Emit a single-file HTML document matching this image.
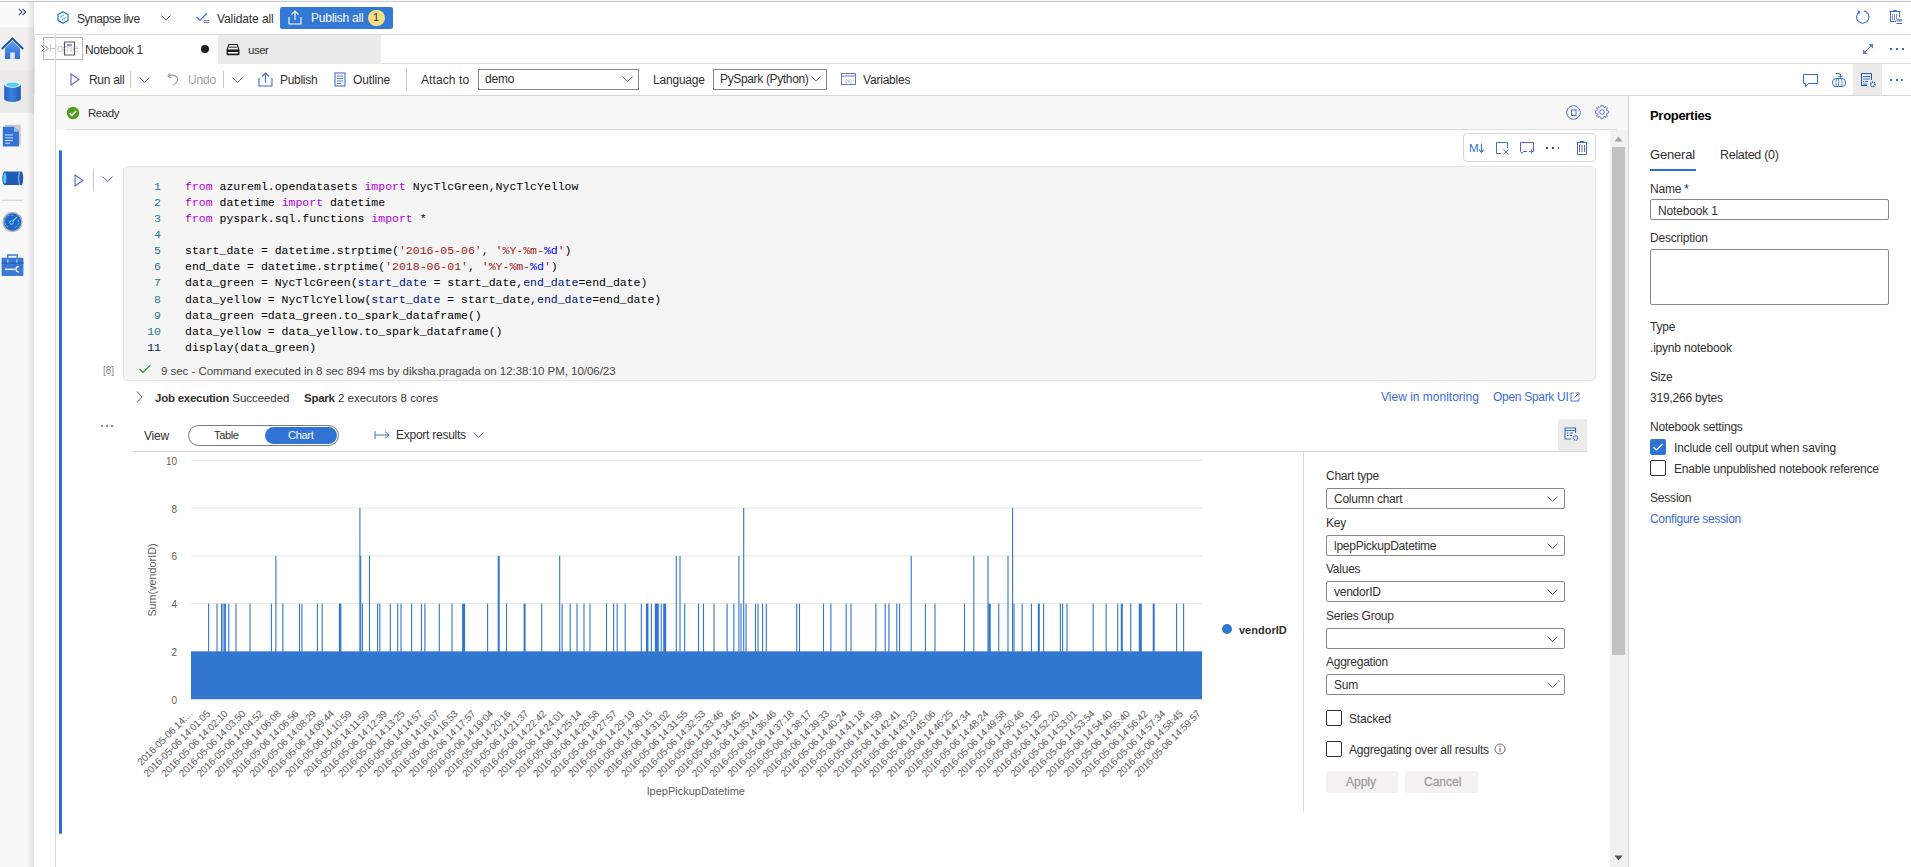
<!DOCTYPE html>
<html><head><meta charset="utf-8">
<style>
*{box-sizing:border-box;margin:0;padding:0}
html,body{width:1911px;height:867px;overflow:hidden;background:#fff;font-family:"Liberation Sans",sans-serif;color:#323130}
.a{position:absolute}
.t{position:absolute;white-space:nowrap;line-height:1}
svg{position:absolute;overflow:visible}
.ln{position:absolute;left:130px;margin-top:0.5px;width:31px;text-align:right;font-family:"Liberation Mono",monospace;font-size:11.5px;line-height:16px;color:#237893;white-space:pre}
.cd{position:absolute;left:185px;margin-top:0.5px;font-family:"Liberation Mono",monospace;font-size:11.5px;line-height:16px;color:#000;white-space:pre}
.kw{color:#af00db}.st{color:#a31515}.fm{color:#0000ff}.pa{color:#001080}
</style></head>
<body>
<!-- top border -->
<div class="a" style="left:0;top:0;width:1911px;height:1px;background:#f3f8fd"></div><div class="a" style="left:0;top:1px;width:1911px;height:1px;background:#cacaca"></div>

<!-- left sidebar -->
<div class="a" style="left:0;top:2px;width:34px;height:865px;background:#f8f8f8"></div>
<div class="a" style="left:0;top:2px;width:34px;height:25px;background:#fbfbfb"></div>
<div class="a" style="left:0;top:27px;width:34px;height:43px;background:#f1f0ef"></div>
<div class="a" style="left:0;top:70px;width:34px;height:43px;background:#ebeae9"></div>
<div class="a" style="left:27px;top:2px;width:7px;height:865px;background:linear-gradient(to right,rgba(0,0,0,0),rgba(0,0,0,0.10))"></div>
<div class="a" style="left:34px;top:35px;width:1px;height:60px;background:#e2e2e2"></div>

<svg style="left:18px;top:8px" width="9" height="8" viewBox="0 0 9 8"><path d="M0.8 0.8 L4 4 L0.8 7.2 M4.5 0.8 L7.7 4 L4.5 7.2" fill="none" stroke="#3a4a7a" stroke-width="1.1"/></svg>
<svg style="left:0;top:0" width="34" height="290" viewBox="0 0 34 290">
<defs>
<linearGradient id="hg" x1="0" y1="0" x2="0" y2="1"><stop offset="0" stop-color="#5c9cf0"/><stop offset="1" stop-color="#2f70d3"/></linearGradient>
<linearGradient id="dbg" x1="0" y1="0" x2="1" y2="0"><stop offset="0" stop-color="#2262c4"/><stop offset="0.45" stop-color="#3c82dc"/><stop offset="1" stop-color="#1f5bb8"/></linearGradient>
</defs>
<!-- home -->
<path d="M5 48 V59 H20 V48 L12.5 41 Z" fill="url(#hg)"/>
<path d="M1.8 49 L12.5 38.5 L23.2 49" fill="none" stroke="#1d4fa6" stroke-width="1.8"/>
<rect x="10.2" y="52.5" width="4.6" height="6.3" fill="#e8e8e8"/>
<!-- database -->
<path d="M4.2 84.5 V99 A8.3 3 0 0 0 20.8 99 V84.5 Z" fill="url(#dbg)"/>
<ellipse cx="12.5" cy="84.5" rx="8.3" ry="3.2" fill="#e8f4fb"/>
<ellipse cx="12.5" cy="84.6" rx="6.5" ry="2.2" fill="#4fcff5"/>
<!-- document -->
<rect x="5" y="124.7" width="15.8" height="19.8" fill="#c9c9c9"/>
<path d="M2.8 126.8 H14 L18.9 131.7 V146.4 H2.8 Z" fill="#3374d4"/>
<path d="M14 126.8 L18.9 131.7 H14 Z" fill="#8fc0f2"/>
<path d="M5 135 H13 M5 137.8 H13 M5 140.6 H13 M5 143.2 H10" stroke="#cfe0f8" stroke-width="1"/>
<!-- pipeline -->
<rect x="6" y="171.5" width="14" height="13.5" fill="#1f5cb8"/>
<ellipse cx="5" cy="178.2" rx="2.7" ry="7" fill="#1f5cb8"/>
<ellipse cx="4.8" cy="178.2" rx="1.6" ry="5.8" fill="#4fc6f2"/>
<ellipse cx="21" cy="178.2" rx="2.2" ry="7" fill="#1f5cb8"/>
<path d="M19.3 171.8 Q18 178.2 19.3 184.8" fill="none" stroke="#e8eef8" stroke-width="0.7"/>
<!-- separator -->
<rect x="2" y="199.8" width="21" height="1" fill="#d2d2d2"/>
<!-- monitor -->
<circle cx="12.5" cy="222" r="9.4" fill="#2265c6" stroke="#b4b4b4" stroke-width="1.5"/>
<path d="M8 227 A6 6 0 0 1 14 215.8 M18.2 220 A6 6 0 0 1 15 227.6" fill="none" stroke="#58c8f4" stroke-width="1" stroke-dasharray="2.2 1"/>
<circle cx="11.5" cy="222.5" r="1.8" fill="none" stroke="#7fd8f8" stroke-width="1"/>
<path d="M12.8 221.2 L17 217" stroke="#7fd8f8" stroke-width="1.1"/>
<!-- toolbox -->
<path d="M7.8 258 V255 H17.2 V258" fill="none" stroke="#3a7bd5" stroke-width="1.3"/>
<rect x="1.6" y="257.8" width="21.8" height="18.2" rx="0.8" fill="#3a7ad6"/>
<rect x="1.6" y="262" width="21.8" height="2" fill="#2c66bf"/>
<rect x="7" y="259.5" width="1.5" height="3" fill="#7ed6f7"/>
<rect x="16" y="259.5" width="1.5" height="3" fill="#7ed6f7"/>
<path d="M5 269.3 H15.5" stroke="#e6e6e6" stroke-width="1.6"/>
<path d="M18.8 266.5 A2.6 2.6 0 1 0 18.8 272" fill="none" stroke="#e6e6e6" stroke-width="1.5"/>
</svg>


<!-- top toolbar -->
<div class="a" style="left:35px;top:34px;width:1876px;height:1px;background:#dcdcdc"></div>

<!-- synapse icon -->
<svg style="left:57px;top:11px" width="12" height="13" viewBox="0 0 12 13"><path d="M6 0.8 L11 3.6 L11 9.4 L6 12.2 L1 9.4 L1 3.6 Z" fill="none" stroke="#2f7ad8" stroke-width="1.3"/><path d="M3.6 6.8 Q4.2 4.2 7 4.6 M8.4 6.2 Q7.8 8.8 5 8.4" fill="none" stroke="#3fb3ef" stroke-width="1.2"/></svg>
<span class="t" style="left:77px;top:13px;font-size:12px;letter-spacing:-0.45px;color:#323130">Synapse live</span>
<svg style="left:161px;top:15px" width="10" height="6" viewBox="0 0 10 6"><path d="M0.5 0.5 L5 5 L9.5 0.5" fill="none" stroke="#605e5c" stroke-width="1"/></svg>
<!-- validate icon -->
<svg style="left:196px;top:12px" width="15" height="12" viewBox="0 0 15 12"><path d="M0.5 5 L4 8.5 L11 1" fill="none" stroke="#3b6fd4" stroke-width="1.1"/><path d="M8 8.5 H13 M8 10.5 H13" stroke="#7a6fd8" stroke-width="1.2"/></svg>
<span class="t" style="left:217px;top:13px;font-size:12px;letter-spacing:-0.1px;color:#323130">Validate all</span>
<!-- publish all button -->
<div class="a" style="left:280px;top:7px;width:113px;height:22px;background:#3378d4;border-radius:2px"></div>
<svg style="left:288px;top:10px" width="14" height="15" viewBox="0 0 14 15"><path d="M7 1 V10 M3.5 4.5 L7 1 L10.5 4.5" fill="none" stroke="#fff" stroke-width="1.1"/><path d="M1 7 V14 H13 V7" fill="none" stroke="#fff" stroke-width="1.1"/></svg>
<span class="t" style="left:311px;top:12px;font-size:12px;letter-spacing:-0.2px;color:#fff">Publish all</span>
<div class="a" style="left:368px;top:10px;width:17px;height:16px;background:#f3dd85;border-radius:8px"></div>
<span class="t" style="left:373px;top:12px;font-size:11px;color:#323130">1</span>
<!-- right icons -->
<svg style="left:1855px;top:9px" width="16" height="16" viewBox="0 0 16 16"><path d="M4.3 2.8 A6.2 6.2 0 1 0 9 1.9" fill="none" stroke="#3e6fd0" stroke-width="1.1"/><path d="M2.5 1.8 L4.6 2.8 L3.8 5" fill="none" stroke="#3e6fd0" stroke-width="1.1"/></svg>
<svg style="left:1889px;top:9px" width="14" height="16" viewBox="0 0 14 16"><path d="M4.5 2.5 V1.5 H7.5 V2.5 M0.5 2.5 H11.5 M1.5 2.5 V12.5 H7 M10.5 2.5 V8" fill="none" stroke="#3e6fd0" stroke-width="1"/><path d="M3.5 5 V11 M5.5 5 V11 M7.5 5 V10" stroke="#6a62d6" stroke-width="0.8"/><rect x="7.5" y="10" width="5.5" height="2.5" fill="#8a96d8"/><path d="M7.5 14.5 H13" stroke="#3e6fd0" stroke-width="1"/></svg>


<!-- tab row -->
<div class="a" style="left:55px;top:35px;width:163px;height:29px;background:#fff"></div>
<div class="a" style="left:218px;top:35px;width:163px;height:29px;background:#ebebeb"></div>
<div class="a" style="left:381px;top:63px;width:1530px;height:1px;background:#e0e0e0"></div>

<!-- Home overlay (faded) -->
<div class="a" style="left:43px;top:37px;width:40px;height:23px;border:1px solid #b9b9b9;background:rgba(255,255,255,0.3)"></div>
<span class="t" style="left:49px;top:43px;font-size:11px;color:#c4c4c4">Home</span>
<svg style="left:41px;top:45px" width="8" height="7" viewBox="0 0 8 7"><path d="M0.5 0.5 L3.5 3.5 L0.5 6.5 M4 0.5 L7 3.5 L4 6.5" fill="none" stroke="#6a6a6a" stroke-width="0.9"/></svg>
<!-- notebook icon -->
<svg style="left:63px;top:41px" width="13" height="15" viewBox="0 0 13 15"><rect x="1.5" y="1" width="10" height="13" fill="none" stroke="#5a5a5a" stroke-width="1"/><rect x="4" y="3" width="5" height="2" fill="#8a9ed8"/><path d="M0.5 3 H2.5 M0.5 6 H2.5 M0.5 9 H2.5 M0.5 12 H2.5" stroke="#5a5a5a" stroke-width="0.8"/></svg>
<span class="t" style="left:85px;top:44px;font-size:12px;letter-spacing:-0.35px;color:#323130">Notebook 1</span>
<div class="a" style="left:201px;top:45px;width:8px;height:8px;border-radius:4px;background:#201f1e"></div>
<!-- user tab icon -->
<svg style="left:226px;top:43px" width="14" height="13" viewBox="0 0 14 13"><path d="M2.8 1.5 H11.2 L13 7 H1 Z" fill="none" stroke="#1a1a1a" stroke-width="1.1"/><path d="M3 4.2 H11" stroke="#555" stroke-width="1.2"/><rect x="0.6" y="7" width="12.8" height="5.2" rx="0.8" fill="#1a1a1a"/><rect x="2" y="9" width="10" height="1.6" fill="#f0f0f0"/></svg>
<span class="t" style="left:248px;top:45px;font-size:11.5px;letter-spacing:-0.5px;color:#323130">user</span>
<!-- expand + more -->
<svg style="left:1862px;top:43px" width="12" height="12" viewBox="0 0 12 12"><path d="M2 10 L10 2" stroke="#6b78d6" stroke-width="1"/><path d="M6.5 1 H11 V5.5 Z" fill="#5a78d8"/><path d="M1 6.5 V11 H5.5 Z" fill="#7a6fd8"/></svg>
<div class="a" style="left:1890px;top:48px;width:2px;height:2px;background:#4a62cc"></div>
<div class="a" style="left:1896px;top:48px;width:2px;height:2px;background:#4a62cc"></div>
<div class="a" style="left:1902px;top:48px;width:2px;height:2px;background:#4a62cc"></div>


<!-- notebook toolbar -->
<div class="a" style="left:55px;top:95px;width:1856px;height:1px;background:#d6d6d6"></div>

<svg style="left:70px;top:73px" width="10" height="13" viewBox="0 0 10 13"><path d="M1 1 L9 6.5 L1 12 Z" fill="none" stroke="#5b63d3" stroke-width="1.1"/></svg>
<span class="t" style="left:89px;top:74px;font-size:12px;letter-spacing:-0.3px;color:#323130">Run all</span>
<div class="a" style="left:130px;top:71px;width:1px;height:17px;background:#c8c6c4"></div>
<svg style="left:139px;top:77px" width="11" height="6" viewBox="0 0 11 6"><path d="M0.5 0.5 L5.5 5.5 L10.5 0.5" fill="none" stroke="#5b63d3" stroke-width="1"/></svg>
<svg style="left:167px;top:72px" width="12" height="14" viewBox="0 0 12 14"><path d="M3 1 L1 4 L4 6 M1.2 4 Q8 1.5 10.5 6 Q11.5 10 6 13" fill="none" stroke="#a19f9d" stroke-width="1.1"/></svg>
<span class="t" style="left:188px;top:74px;font-size:12px;letter-spacing:-0.2px;color:#a19f9d">Undo</span>
<div class="a" style="left:223px;top:71px;width:1px;height:17px;background:#c8c6c4"></div>
<svg style="left:232px;top:77px" width="11" height="6" viewBox="0 0 11 6"><path d="M0.5 0.5 L5.5 5.5 L10.5 0.5" fill="none" stroke="#5b63d3" stroke-width="1"/></svg>
<svg style="left:258px;top:72px" width="15" height="15" viewBox="0 0 15 15"><path d="M7.5 1 V11 M4 4.5 L7.5 1 L11 4.5" fill="none" stroke="#3e6fd0" stroke-width="1.1"/><path d="M1 6 V14 H14 V6" fill="none" stroke="#3e6fd0" stroke-width="1.1"/></svg>
<span class="t" style="left:280px;top:74px;font-size:12px;letter-spacing:-0.3px;color:#323130">Publish</span>
<svg style="left:334px;top:72px" width="12" height="15" viewBox="0 0 12 15"><rect x="1" y="1" width="10" height="13" fill="none" stroke="#3e6fd0" stroke-width="1.1"/><path d="M3 4 H9 M3 6.5 H9 M3 9 H9 M3 11.5 H7" stroke="#3e6fd0" stroke-width="0.9"/></svg>
<span class="t" style="left:353px;top:74px;font-size:12px;letter-spacing:-0.15px;color:#323130">Outline</span>
<div class="a" style="left:406px;top:68px;width:1px;height:23px;background:#c8c6c4"></div>
<span class="t" style="left:421px;top:74px;font-size:12px;letter-spacing:0.1px;color:#323130">Attach to</span>
<div class="a" style="left:478px;top:69px;width:161px;height:21px;border:1px solid #8a8886;background:#fff"></div>
<span class="t" style="left:485px;top:73px;font-size:12px;letter-spacing:-0.2px;color:#323130">demo</span>
<svg style="left:622px;top:76px" width="11" height="6" viewBox="0 0 11 6"><path d="M0.5 0.5 L5.5 5.5 L10.5 0.5" fill="none" stroke="#605e5c" stroke-width="0.9"/></svg>
<span class="t" style="left:653px;top:74px;font-size:12px;letter-spacing:-0.2px;color:#323130">Language</span>
<div class="a" style="left:713px;top:69px;width:114px;height:21px;border:1px solid #8a8886;background:#fff"></div>
<span class="t" style="left:720px;top:73px;font-size:12px;letter-spacing:-0.35px;color:#323130">PySpark (Python)</span>
<svg style="left:811px;top:76px" width="10" height="6" viewBox="0 0 10 6"><path d="M0.5 0.5 L5 5 L9.5 0.5" fill="none" stroke="#605e5c" stroke-width="0.9"/></svg>
<svg style="left:841px;top:73px" width="15" height="12" viewBox="0 0 15 12"><rect x="0.5" y="0.5" width="14" height="11" fill="none" stroke="#6b78d6" stroke-width="1"/><path d="M0.5 3 H14.5" stroke="#6b78d6" stroke-width="1"/><text x="7.5" y="9.5" font-size="6" text-anchor="middle" fill="#8a90d8" font-family="Liberation Sans">(x)</text></svg>
<span class="t" style="left:863px;top:74px;font-size:12px;letter-spacing:-0.2px;color:#323130">Variables</span>
<!-- right icons -->
<svg style="left:1802px;top:73px" width="17" height="15" viewBox="0 0 17 15"><path d="M1.5 1.5 H15.5 V10.5 H6.5 L3.5 13.5 V10.5 H1.5 Z" fill="none" stroke="#2f6fd6" stroke-width="1"/></svg>
<svg style="left:1831px;top:72px" width="17" height="16" viewBox="0 0 17 16"><path d="M4.5 1.5 H8 Q9.5 1.5 9.5 3 V5" fill="none" stroke="#2f6fd6" stroke-width="1"/><path d="M7.5 3.8 L9.5 5.8 L11.5 3.8" fill="none" stroke="#2f6fd6" stroke-width="1"/><rect x="1.5" y="6.5" width="13" height="8" rx="3.5" fill="none" stroke="#2f6fd6" stroke-width="1"/><path d="M5.5 6.5 Q4 10.5 5.5 14.5 M10.5 6.5 Q12 10.5 10.5 14.5 M7.5 6.5 V14.5" fill="none" stroke="#5a8ee0" stroke-width="1"/></svg>
<div class="a" style="left:1853px;top:64px;width:29px;height:31px;background:#edebe9"></div>
<svg style="left:1860px;top:72px" width="17" height="16" viewBox="0 0 17 16"><path d="M11.5 8 V1.5 H1.5 V13.5 H7" fill="none" stroke="#1f5bc0" stroke-width="1"/><path d="M3 4.5 H10 M3 7 H10 M3 9.5 H4 M5 9.5 H8 M3 12 H7" stroke="#3a72d0" stroke-width="1"/><circle cx="12.8" cy="12.3" r="2.2" fill="none" stroke="#1f5bc0" stroke-width="1.5" stroke-dasharray="1.1 0.6"/></svg>
<div class="a" style="left:1890px;top:79px;width:2px;height:2px;background:#3e6fd0"></div>
<div class="a" style="left:1896px;top:79px;width:2px;height:2px;background:#3e6fd0"></div>
<div class="a" style="left:1901px;top:79px;width:2px;height:2px;background:#3e6fd0"></div>


<!-- content left border -->
<div class="a" style="left:55px;top:35px;width:1px;height:832px;background:#d8d8d8"></div>

<!-- ready row -->
<div class="a" style="left:56px;top:96px;width:1572px;height:34px;background:#f8f8f8"></div>
<div class="a" style="left:67px;top:129px;width:1550px;height:1px;background:#dedede"></div>

<svg style="left:66px;top:106px" width="14" height="14" viewBox="0 0 14 14"><circle cx="7" cy="7" r="6.2" fill="#4f9d1c"/><path d="M3.8 7.2 L6 9.3 L10.2 5" fill="none" stroke="#fff" stroke-width="1.6"/></svg>
<span class="t" style="left:88px;top:108px;font-size:11.5px;letter-spacing:-0.45px;color:#323130">Ready</span>
<svg style="left:1566px;top:104.5px" width="15" height="15" viewBox="0 0 15 15"><circle cx="7.5" cy="7.5" r="6.8" fill="none" stroke="#4a6fd8" stroke-width="1"/><rect x="5.5" y="5" width="4.5" height="5.5" fill="none" stroke="#4a6fd8" stroke-width="1"/></svg>
<svg style="left:1594px;top:104px" width="16" height="16" viewBox="0 0 16 16"><path d="M13.17 6.84 L14.74 7.12 L14.74 8.88 L13.17 9.16 L12.48 10.84 L13.39 12.14 L12.14 13.39 L10.84 12.48 L9.16 13.17 L8.88 14.74 L7.12 14.74 L6.84 13.17 L5.16 12.48 L3.86 13.39 L2.61 12.14 L3.52 10.84 L2.83 9.16 L1.26 8.88 L1.26 7.12 L2.83 6.84 L3.52 5.16 L2.61 3.86 L3.86 2.61 L5.16 3.52 L6.84 2.83 L7.12 1.26 L8.88 1.26 L9.16 2.83 L10.84 3.52 L12.14 2.61 L13.39 3.86 L12.48 5.16 Z" fill="none" stroke="#6872d8" stroke-width="1"/><circle cx="8" cy="8" r="2.3" fill="none" stroke="#6872d8" stroke-width="1"/></svg>


<!-- scrollbar -->
<div class="a" style="left:1610px;top:130px;width:18px;height:737px;background:#f1f1f1"></div>
<div class="a" style="left:1612px;top:147px;width:13px;height:508px;background:#c1c1c1"></div>

<!-- properties panel -->
<div class="a" style="left:1628px;top:96px;width:1px;height:771px;background:#d4d4d4"></div>

<span class="t" style="left:1650px;top:109px;font-size:13px;font-weight:bold;letter-spacing:-0.3px;color:#000">Properties</span>
<span class="t" style="left:1650px;top:148px;font-size:13px;letter-spacing:-0.2px;color:#323130">General</span>
<div class="a" style="left:1650px;top:169px;width:46px;height:2px;background:#2b6fd6"></div>
<span class="t" style="left:1720px;top:149px;font-size:12.5px;letter-spacing:-0.3px;color:#323130">Related (0)</span>
<span class="t" style="left:1650px;top:183px;font-size:12px;letter-spacing:-0.2px;color:#323130">Name <span style="color:#323130">*</span></span>
<div class="a" style="left:1650px;top:199px;width:239px;height:21px;border:1px solid #8a8886;border-radius:2px;background:#fff"></div>
<span class="t" style="left:1658px;top:205px;font-size:12px;letter-spacing:-0.15px;color:#323130">Notebook 1</span>
<span class="t" style="left:1650px;top:232px;font-size:12px;letter-spacing:-0.2px;color:#323130">Description</span>
<div class="a" style="left:1650px;top:249px;width:239px;height:56px;border:1px solid #8a8886;border-radius:2px;background:#fff"></div>
<span class="t" style="left:1650px;top:321px;font-size:12px;letter-spacing:-0.2px;color:#323130">Type</span>
<span class="t" style="left:1650px;top:342px;font-size:12px;letter-spacing:-0.2px;color:#323130">.ipynb notebook</span>
<span class="t" style="left:1650px;top:371px;font-size:12px;letter-spacing:-0.2px;color:#323130">Size</span>
<span class="t" style="left:1650px;top:392px;font-size:12px;letter-spacing:-0.2px;color:#323130">319,266 bytes</span>
<span class="t" style="left:1650px;top:421px;font-size:12px;letter-spacing:-0.2px;color:#323130">Notebook settings</span>
<div class="a" style="left:1650px;top:439px;width:16px;height:16px;background:#2f74d4;border-radius:2px"></div>
<svg style="left:1650px;top:439px" width="16" height="16" viewBox="0 0 16 16"><path d="M3.5 8.2 L6.5 11 L12.5 5" fill="none" stroke="#fff" stroke-width="1.2"/></svg>
<span class="t" style="left:1674px;top:442px;font-size:12px;letter-spacing:-0.15px;color:#323130">Include cell output when saving</span>
<div class="a" style="left:1650px;top:460px;width:16px;height:16px;border:1px solid #323130;border-radius:2px;background:#fff"></div>
<span class="t" style="left:1674px;top:463px;font-size:12px;letter-spacing:-0.2px;color:#323130">Enable unpublished notebook reference</span>
<span class="t" style="left:1650px;top:492px;font-size:12px;letter-spacing:-0.2px;color:#323130">Session</span>
<span class="t" style="left:1650px;top:513px;font-size:12px;letter-spacing:-0.3px;color:#3b6cd6">Configure session</span>
<!-- scrollbar arrows -->
<svg style="left:1614px;top:136px" width="9" height="6" viewBox="0 0 9 6"><path d="M0.5 5.5 L4.5 0.5 L8.5 5.5 Z" fill="#a3a3a3"/></svg>
<svg style="left:1614px;top:855px" width="9" height="6" viewBox="0 0 9 6"><path d="M0.5 0.5 L4.5 5.5 L8.5 0.5 Z" fill="#505050"/></svg>


<!-- cell -->
<div class="a" style="left:59px;top:150px;width:3px;height:684px;background:#2b6fd6;border-radius:2px"></div>

<svg style="left:74px;top:174px" width="10" height="13" viewBox="0 0 10 13"><path d="M1 1 L9 6.5 L1 12 Z" fill="none" stroke="#5b63d3" stroke-width="1.1"/></svg>
<div class="a" style="left:93px;top:169px;width:1px;height:22px;background:#c8c6c4"></div>
<svg style="left:102px;top:176px" width="11" height="6" viewBox="0 0 11 6"><path d="M0.5 0.5 L5.5 5.5 L10.5 0.5" fill="none" stroke="#5b63d3" stroke-width="1"/></svg>
<!-- cell toolbar -->
<div class="a" style="left:1463px;top:133px;width:133px;height:29px;border:1px solid #d6d6d6;border-radius:4px;background:#fff"></div>
<span class="t" style="left:1469px;top:142.5px;font-size:11.5px;letter-spacing:-0.5px;color:#3e6fd0">M</span>
<svg style="left:1478px;top:143px" width="7" height="10" viewBox="0 0 7 10"><path d="M3.5 0.5 V9" stroke="#3e6fd0" stroke-width="1.1"/><path d="M1 6.5 L3.5 9.3 L6 6.5" fill="none" stroke="#3e6fd0" stroke-width="1.1"/></svg>
<svg style="left:1495px;top:141px" width="15" height="15" viewBox="0 0 15 15"><path d="M12.5 7 V1.5 H1.5 V12.5 H6" fill="none" stroke="#3e6fd0" stroke-width="1"/><path d="M8.5 8.5 L13.5 13.5 M13.5 8.5 L8.5 13.5" stroke="#6a6ad8" stroke-width="1"/></svg>
<svg style="left:1519px;top:141px" width="16" height="14" viewBox="0 0 16 14"><path d="M1.5 10.5 V1.5 H14.5 V10.5" fill="none" stroke="#5a62d6" stroke-width="1"/><path d="M1.5 10.5 L3 12.5 L4.5 10.5 H8" fill="none" stroke="#5a62d6" stroke-width="1"/><path d="M10 10.5 H14.5 M12.3 8.5 V12.5" stroke="#6a72d8" stroke-width="1.1"/></svg>
<div class="a" style="left:1546px;top:147px;width:1.6px;height:1.6px;background:#3a4a9a"></div>
<div class="a" style="left:1552px;top:147px;width:1.6px;height:1.6px;background:#3a4a9a"></div>
<div class="a" style="left:1557.5px;top:147px;width:1.6px;height:1.6px;background:#3a4a9a"></div>
<svg style="left:1576px;top:140px" width="12" height="16" viewBox="0 0 12 16"><path d="M4 2.5 V1.5 H8 V2.5 M0.5 2.5 H11.5 M1.5 2.5 V14.5 H10.5 V2.5" fill="none" stroke="#3e6fd0" stroke-width="1"/><path d="M3.5 5 V12 M6 5 V12 M8.5 5 V12" stroke="#6a62d6" stroke-width="1"/></svg>
<!-- code box -->
<div class="a" style="left:123px;top:166px;width:1473px;height:215px;background:#f5f5f5;border:1px solid #e4e4e4;border-radius:5px"></div>
<span class="ln" style="top:178.00px">1</span><span class="cd" style="top:178.00px"><span class="kw">from</span> azureml.opendatasets <span class="kw">import</span> NycTlcGreen,NycTlcYellow</span>
<span class="ln" style="top:194.16px">2</span><span class="cd" style="top:194.16px"><span class="kw">from</span> datetime <span class="kw">import</span> datetime</span>
<span class="ln" style="top:210.32px">3</span><span class="cd" style="top:210.32px"><span class="kw">from</span> pyspark.sql.functions <span class="kw">import</span> *</span>
<span class="ln" style="top:226.48px">4</span><span class="cd" style="top:226.48px"></span>
<span class="ln" style="top:242.64px">5</span><span class="cd" style="top:242.64px">start_date = datetime.strptime(<span class="st">'2016-05-06'</span>, <span class="st">'%Y-%m-</span><span class="fm">%d</span><span class="st">'</span>)</span>
<span class="ln" style="top:258.80px">6</span><span class="cd" style="top:258.80px">end_date = datetime.strptime(<span class="st">'2018-06-01'</span>, <span class="st">'%Y-%m-</span><span class="fm">%d</span><span class="st">'</span>)</span>
<span class="ln" style="top:274.96px">7</span><span class="cd" style="top:274.96px">data_green = NycTlcGreen(<span class="pa">start_date</span> = start_date,<span class="pa">end_date</span>=end_date)</span>
<span class="ln" style="top:291.12px">8</span><span class="cd" style="top:291.12px">data_yellow = NycTlcYellow(<span class="pa">start_date</span> = start_date,<span class="pa">end_date</span>=end_date)</span>
<span class="ln" style="top:307.28px">9</span><span class="cd" style="top:307.28px">data_green =data_green.to_spark_dataframe()</span>
<span class="ln" style="top:323.44px">10</span><span class="cd" style="top:323.44px">data_yellow = data_yellow.to_spark_dataframe()</span>
<span class="ln" style="top:339.60px;color:#0b216f">11</span><span class="cd" style="top:339.60px">display(data_green)</span>

<span class="t" style="left:103px;top:366px;font-size:10px;color:#8a8886">[8]</span>
<svg style="left:139px;top:364px" width="12" height="10" viewBox="0 0 12 10"><path d="M0.5 5 L4 8.5 L11.5 1" fill="none" stroke="#3b8a3a" stroke-width="1.1"/></svg>
<span class="t" style="left:161px;top:365.5px;font-size:11.5px;letter-spacing:-0.03px;color:#484644">9 sec - Command executed in 8 sec 894 ms by diksha.pragada on 12:38:10 PM, 10/06/23</span>


<!-- output -->

<svg style="left:135px;top:390px" width="9" height="14" viewBox="0 0 9 14"><path d="M2 1.5 L7 7 L2 12.5" fill="none" stroke="#605e5c" stroke-width="1"/></svg>
<span class="t" style="left:155px;top:393px;font-size:11.5px;color:#323130"><b style="letter-spacing:-0.25px">Job execution</b> <span style="letter-spacing:-0.05px;color:#323130">Succeeded</span></span>
<span class="t" style="left:304px;top:393px;font-size:11.5px;color:#323130"><b style="letter-spacing:-0.25px">Spark</b> <span style="letter-spacing:0px;color:#323130">2 executors 8 cores</span></span>
<span class="t" style="left:1381px;top:391px;font-size:12px;letter-spacing:0px;color:#3b6cd6">View in monitoring</span>
<span class="t" style="left:1493px;top:391px;font-size:12px;letter-spacing:-0.3px;color:#3b6cd6">Open Spark UI</span>
<svg style="left:1570px;top:392px" width="10" height="10" viewBox="0 0 10 10"><path d="M4 1 H1 V9 H9 V6 M5.5 1 H9 V4.5 M9 1 L4.5 5.5" fill="none" stroke="#5a70d8" stroke-width="1"/></svg>
<div class="a" style="left:101px;top:425px;width:2px;height:2px;background:#8a8886"></div>
<div class="a" style="left:106px;top:425px;width:2px;height:2px;background:#8a8886"></div>
<div class="a" style="left:111px;top:425px;width:2px;height:2px;background:#8a8886"></div>
<span class="t" style="left:144px;top:430px;font-size:12px;letter-spacing:-0.2px;color:#323130">View</span>
<div class="a" style="left:188px;top:425px;width:151px;height:21px;border:1px solid #7a7876;border-radius:11px;background:#fff"></div>
<div class="a" style="left:265px;top:427px;width:72px;height:17px;border-radius:9px;background:#2f74d4"></div>
<span class="t" style="left:214px;top:429.5px;font-size:11px;letter-spacing:-0.35px;color:#323130">Table</span>
<span class="t" style="left:288px;top:429.5px;font-size:11px;letter-spacing:-0.3px;color:#fff">Chart</span>
<svg style="left:374px;top:430px" width="16" height="10" viewBox="0 0 16 10"><path d="M1 1 V9 M1 5 H15 M11 1.5 L15 5 L11 8.5" fill="none" stroke="#3e6fd0" stroke-width="1"/></svg>
<span class="t" style="left:396px;top:429px;font-size:12px;letter-spacing:-0.25px;color:#323130">Export results</span>
<svg style="left:473px;top:432px" width="11" height="6" viewBox="0 0 11 6"><path d="M0.5 0.5 L5.5 5.5 L10.5 0.5" fill="none" stroke="#5b63d3" stroke-width="1"/></svg>
<div class="a" style="left:1558px;top:419px;width:29px;height:32px;background:#edebe9"></div>
<svg style="left:1564px;top:427px" width="16" height="15" viewBox="0 0 16 15"><path d="M11.5 6 V1 H1 V12 H7" fill="none" stroke="#3e6fd0" stroke-width="1.1"/><path d="M1 3.5 H11.5 M3 6 H4.5 M6 6 H9 M3 8.5 H4.5 M6 8.5 H8" stroke="#3e6fd0" stroke-width="1"/><circle cx="11.5" cy="11" r="2.2" fill="none" stroke="#3e6fd0" stroke-width="1.4" stroke-dasharray="1.2 0.6"/></svg>
<div class="a" style="left:133px;top:451px;width:1454px;height:1px;background:#d4d4d4"></div>
<!-- chart -->
<svg style="left:0;top:0" width="1300" height="867" viewBox="0 0 1300 867">
<rect x="191" y="650.92" width="1011" height="1" fill="#e6e6e6"/><rect x="191" y="603.14" width="1011" height="1" fill="#e6e6e6"/><rect x="191" y="555.36" width="1011" height="1" fill="#e6e6e6"/><rect x="191" y="507.58" width="1011" height="1" fill="#e6e6e6"/><rect x="191" y="459.80" width="1011" height="1" fill="#e6e6e6"/>
<g fill="#3176d0"><rect x="208.05" y="603.64" width="1.1" height="48.28"/><rect x="216.45" y="603.64" width="1.1" height="48.28"/><rect x="221.05" y="603.64" width="1.1" height="48.28"/><rect x="222.45" y="603.64" width="1.1" height="48.28"/><rect x="224.15" y="603.64" width="1.1" height="48.28"/><rect x="224.85" y="603.64" width="1.1" height="48.28"/><rect x="228.25" y="603.64" width="1.1" height="48.28"/><rect x="235.45" y="603.64" width="1.1" height="48.28"/><rect x="249.45" y="603.64" width="1.1" height="48.28"/><rect x="270.85" y="603.64" width="1.1" height="48.28"/><rect x="282.35" y="603.64" width="1.1" height="48.28"/><rect x="298.95" y="603.64" width="1.1" height="48.28"/><rect x="301.35" y="603.64" width="1.1" height="48.28"/><rect x="316.85" y="603.64" width="1.1" height="48.28"/><rect x="321.65" y="603.64" width="1.1" height="48.28"/><rect x="338.85" y="603.64" width="2.5" height="48.28"/><rect x="361.85" y="603.64" width="1.1" height="48.28"/><rect x="377.05" y="603.64" width="1.1" height="48.28"/><rect x="379.25" y="603.64" width="1.1" height="48.28"/><rect x="389.75" y="603.64" width="1.1" height="48.28"/><rect x="397.15" y="603.64" width="1.1" height="48.28"/><rect x="400.45" y="603.64" width="1.1" height="48.28"/><rect x="411.05" y="603.64" width="1.1" height="48.28"/><rect x="420.85" y="603.64" width="1.1" height="48.28"/><rect x="424.35" y="603.64" width="1.1" height="48.28"/><rect x="438.75" y="603.64" width="1.1" height="48.28"/><rect x="451.45" y="603.64" width="1.1" height="48.28"/><rect x="462.10" y="603.64" width="3" height="48.28"/><rect x="487.05" y="603.64" width="1.1" height="48.28"/><rect x="505.95" y="603.64" width="1.1" height="48.28"/><rect x="523.60" y="603.64" width="2" height="48.28"/><rect x="541.15" y="603.64" width="1.1" height="48.28"/><rect x="561.55" y="603.64" width="1.1" height="48.28"/><rect x="569.65" y="603.64" width="1.1" height="48.28"/><rect x="576.45" y="603.64" width="1.1" height="48.28"/><rect x="583.45" y="603.64" width="1.1" height="48.28"/><rect x="589.45" y="603.64" width="1.1" height="48.28"/><rect x="605.95" y="603.64" width="1.1" height="48.28"/><rect x="613.05" y="603.64" width="1.1" height="48.28"/><rect x="616.65" y="603.64" width="1.1" height="48.28"/><rect x="624.65" y="603.64" width="1.1" height="48.28"/><rect x="640.75" y="603.64" width="1.1" height="48.28"/><rect x="645.95" y="603.64" width="2.5" height="48.28"/><rect x="650.85" y="603.64" width="1.1" height="48.28"/><rect x="654.80" y="603.64" width="4" height="48.28"/><rect x="660.65" y="603.64" width="1.1" height="48.28"/><rect x="663.20" y="603.64" width="3" height="48.28"/><rect x="684.15" y="603.64" width="1.1" height="48.28"/><rect x="697.95" y="603.64" width="1.1" height="48.28"/><rect x="702.95" y="603.64" width="1.1" height="48.28"/><rect x="713.45" y="603.64" width="1.1" height="48.28"/><rect x="726.55" y="603.64" width="1.1" height="48.28"/><rect x="733.35" y="603.64" width="1.1" height="48.28"/><rect x="740.45" y="603.64" width="1.1" height="48.28"/><rect x="745.45" y="603.64" width="1.1" height="48.28"/><rect x="754.95" y="603.64" width="1.1" height="48.28"/><rect x="757.45" y="603.64" width="1.1" height="48.28"/><rect x="762.05" y="603.64" width="1.1" height="48.28"/><rect x="765.75" y="603.64" width="1.1" height="48.28"/><rect x="796.15" y="603.64" width="1.1" height="48.28"/><rect x="798.95" y="603.64" width="1.1" height="48.28"/><rect x="822.95" y="603.64" width="1.1" height="48.28"/><rect x="830.35" y="603.64" width="1.1" height="48.28"/><rect x="845.65" y="603.64" width="1.1" height="48.28"/><rect x="850.45" y="603.64" width="1.1" height="48.28"/><rect x="875.35" y="603.64" width="1.1" height="48.28"/><rect x="884.65" y="603.64" width="1.1" height="48.28"/><rect x="888.35" y="603.64" width="1.1" height="48.28"/><rect x="896.25" y="603.64" width="1.1" height="48.28"/><rect x="899.05" y="603.64" width="1.1" height="48.28"/><rect x="924.85" y="603.64" width="1.1" height="48.28"/><rect x="934.45" y="603.64" width="1.1" height="48.28"/><rect x="963.95" y="603.64" width="1.1" height="48.28"/><rect x="988.25" y="603.64" width="2.5" height="48.28"/><rect x="998.15" y="603.64" width="1.1" height="48.28"/><rect x="1013.45" y="603.64" width="1.1" height="48.28"/><rect x="1021.65" y="603.64" width="1.1" height="48.28"/><rect x="1030.85" y="603.64" width="1.1" height="48.28"/><rect x="1037.80" y="603.64" width="2" height="48.28"/><rect x="1043.05" y="603.64" width="1.1" height="48.28"/><rect x="1059.85" y="603.64" width="1.1" height="48.28"/><rect x="1062.05" y="603.64" width="1.1" height="48.28"/><rect x="1066.45" y="603.64" width="1.1" height="48.28"/><rect x="1092.65" y="603.64" width="1.1" height="48.28"/><rect x="1105.55" y="603.64" width="1.1" height="48.28"/><rect x="1117.15" y="603.64" width="1.1" height="48.28"/><rect x="1120.80" y="603.64" width="2" height="48.28"/><rect x="1130.15" y="603.64" width="1.1" height="48.28"/><rect x="1138.80" y="603.64" width="3" height="48.28"/><rect x="1152.70" y="603.64" width="2" height="48.28"/><rect x="1176.05" y="603.64" width="1.1" height="48.28"/><rect x="1183.05" y="603.64" width="1.1" height="48.28"/><rect x="275.35" y="555.86" width="1.1" height="96.06"/><rect x="360.15" y="555.86" width="1.1" height="96.06"/><rect x="368.95" y="555.86" width="1.1" height="96.06"/><rect x="497.70" y="555.86" width="2" height="96.06"/><rect x="559.15" y="555.86" width="1.1" height="96.06"/><rect x="675.75" y="555.86" width="1.1" height="96.06"/><rect x="679.45" y="555.86" width="1.1" height="96.06"/><rect x="738.35" y="555.86" width="1.1" height="96.06"/><rect x="910.65" y="555.86" width="1.1" height="96.06"/><rect x="973.25" y="555.86" width="1.1" height="96.06"/><rect x="987.45" y="555.86" width="1.1" height="96.06"/><rect x="1007.45" y="555.86" width="1.1" height="96.06"/><rect x="359.35" y="508.08" width="1.1" height="143.84"/><rect x="743.15" y="508.08" width="1.1" height="143.84"/><rect x="1012.05" y="508.08" width="1.1" height="143.84"/>
<rect x="191" y="651.42" width="1011" height="47.78"/></g>
<g font-family="Liberation Sans" font-size="10" letter-spacing="-0.2" fill="#605e5c"><text x="193.00" y="714.5" transform="rotate(-45 193.00 714.5)" text-anchor="end">2016-05-06 14:...</text><text x="210.69" y="714.5" transform="rotate(-45 210.69 714.5)" text-anchor="end">2016-05-06 14:01:05</text><text x="228.38" y="714.5" transform="rotate(-45 228.38 714.5)" text-anchor="end">2016-05-06 14:02:10</text><text x="246.07" y="714.5" transform="rotate(-45 246.07 714.5)" text-anchor="end">2016-05-06 14:03:50</text><text x="263.76" y="714.5" transform="rotate(-45 263.76 714.5)" text-anchor="end">2016-05-06 14:04:52</text><text x="281.45" y="714.5" transform="rotate(-45 281.45 714.5)" text-anchor="end">2016-05-06 14:06:08</text><text x="299.14" y="714.5" transform="rotate(-45 299.14 714.5)" text-anchor="end">2016-05-06 14:06:56</text><text x="316.83" y="714.5" transform="rotate(-45 316.83 714.5)" text-anchor="end">2016-05-06 14:08:29</text><text x="334.52" y="714.5" transform="rotate(-45 334.52 714.5)" text-anchor="end">2016-05-06 14:09:44</text><text x="352.21" y="714.5" transform="rotate(-45 352.21 714.5)" text-anchor="end">2016-05-06 14:10:59</text><text x="369.90" y="714.5" transform="rotate(-45 369.90 714.5)" text-anchor="end">2016-05-06 14:11:59</text><text x="387.59" y="714.5" transform="rotate(-45 387.59 714.5)" text-anchor="end">2016-05-06 14:12:39</text><text x="405.28" y="714.5" transform="rotate(-45 405.28 714.5)" text-anchor="end">2016-05-06 14:13:25</text><text x="422.97" y="714.5" transform="rotate(-45 422.97 714.5)" text-anchor="end">2016-05-06 14:14:57</text><text x="440.66" y="714.5" transform="rotate(-45 440.66 714.5)" text-anchor="end">2016-05-06 14:16:07</text><text x="458.35" y="714.5" transform="rotate(-45 458.35 714.5)" text-anchor="end">2016-05-06 14:16:53</text><text x="476.04" y="714.5" transform="rotate(-45 476.04 714.5)" text-anchor="end">2016-05-06 14:17:57</text><text x="493.73" y="714.5" transform="rotate(-45 493.73 714.5)" text-anchor="end">2016-05-06 14:19:04</text><text x="511.42" y="714.5" transform="rotate(-45 511.42 714.5)" text-anchor="end">2016-05-06 14:20:16</text><text x="529.11" y="714.5" transform="rotate(-45 529.11 714.5)" text-anchor="end">2016-05-06 14:21:37</text><text x="546.80" y="714.5" transform="rotate(-45 546.80 714.5)" text-anchor="end">2016-05-06 14:22:42</text><text x="564.49" y="714.5" transform="rotate(-45 564.49 714.5)" text-anchor="end">2016-05-06 14:24:01</text><text x="582.18" y="714.5" transform="rotate(-45 582.18 714.5)" text-anchor="end">2016-05-06 14:25:14</text><text x="599.87" y="714.5" transform="rotate(-45 599.87 714.5)" text-anchor="end">2016-05-06 14:26:58</text><text x="617.56" y="714.5" transform="rotate(-45 617.56 714.5)" text-anchor="end">2016-05-06 14:27:57</text><text x="635.25" y="714.5" transform="rotate(-45 635.25 714.5)" text-anchor="end">2016-05-06 14:29:19</text><text x="652.94" y="714.5" transform="rotate(-45 652.94 714.5)" text-anchor="end">2016-05-06 14:30:15</text><text x="670.63" y="714.5" transform="rotate(-45 670.63 714.5)" text-anchor="end">2016-05-06 14:31:02</text><text x="688.32" y="714.5" transform="rotate(-45 688.32 714.5)" text-anchor="end">2016-05-06 14:31:55</text><text x="706.01" y="714.5" transform="rotate(-45 706.01 714.5)" text-anchor="end">2016-05-06 14:32:53</text><text x="723.70" y="714.5" transform="rotate(-45 723.70 714.5)" text-anchor="end">2016-05-06 14:33:46</text><text x="741.39" y="714.5" transform="rotate(-45 741.39 714.5)" text-anchor="end">2016-05-06 14:34:45</text><text x="759.08" y="714.5" transform="rotate(-45 759.08 714.5)" text-anchor="end">2016-05-06 14:35:41</text><text x="776.77" y="714.5" transform="rotate(-45 776.77 714.5)" text-anchor="end">2016-05-06 14:36:46</text><text x="794.46" y="714.5" transform="rotate(-45 794.46 714.5)" text-anchor="end">2016-05-06 14:37:18</text><text x="812.15" y="714.5" transform="rotate(-45 812.15 714.5)" text-anchor="end">2016-05-06 14:38:17</text><text x="829.84" y="714.5" transform="rotate(-45 829.84 714.5)" text-anchor="end">2016-05-06 14:39:33</text><text x="847.53" y="714.5" transform="rotate(-45 847.53 714.5)" text-anchor="end">2016-05-06 14:40:24</text><text x="865.22" y="714.5" transform="rotate(-45 865.22 714.5)" text-anchor="end">2016-05-06 14:41:18</text><text x="882.91" y="714.5" transform="rotate(-45 882.91 714.5)" text-anchor="end">2016-05-06 14:41:59</text><text x="900.60" y="714.5" transform="rotate(-45 900.60 714.5)" text-anchor="end">2016-05-06 14:42:41</text><text x="918.29" y="714.5" transform="rotate(-45 918.29 714.5)" text-anchor="end">2016-05-06 14:43:23</text><text x="935.98" y="714.5" transform="rotate(-45 935.98 714.5)" text-anchor="end">2016-05-06 14:45:06</text><text x="953.67" y="714.5" transform="rotate(-45 953.67 714.5)" text-anchor="end">2016-05-06 14:46:25</text><text x="971.36" y="714.5" transform="rotate(-45 971.36 714.5)" text-anchor="end">2016-05-06 14:47:34</text><text x="989.05" y="714.5" transform="rotate(-45 989.05 714.5)" text-anchor="end">2016-05-06 14:48:24</text><text x="1006.74" y="714.5" transform="rotate(-45 1006.74 714.5)" text-anchor="end">2016-05-06 14:49:58</text><text x="1024.43" y="714.5" transform="rotate(-45 1024.43 714.5)" text-anchor="end">2016-05-06 14:50:46</text><text x="1042.12" y="714.5" transform="rotate(-45 1042.12 714.5)" text-anchor="end">2016-05-06 14:51:32</text><text x="1059.81" y="714.5" transform="rotate(-45 1059.81 714.5)" text-anchor="end">2016-05-06 14:52:20</text><text x="1077.50" y="714.5" transform="rotate(-45 1077.50 714.5)" text-anchor="end">2016-05-06 14:53:01</text><text x="1095.19" y="714.5" transform="rotate(-45 1095.19 714.5)" text-anchor="end">2016-05-06 14:53:54</text><text x="1112.88" y="714.5" transform="rotate(-45 1112.88 714.5)" text-anchor="end">2016-05-06 14:54:40</text><text x="1130.57" y="714.5" transform="rotate(-45 1130.57 714.5)" text-anchor="end">2016-05-06 14:55:40</text><text x="1148.26" y="714.5" transform="rotate(-45 1148.26 714.5)" text-anchor="end">2016-05-06 14:56:42</text><text x="1165.95" y="714.5" transform="rotate(-45 1165.95 714.5)" text-anchor="end">2016-05-06 14:57:34</text><text x="1183.64" y="714.5" transform="rotate(-45 1183.64 714.5)" text-anchor="end">2016-05-06 14:58:45</text><text x="1201.33" y="714.5" transform="rotate(-45 1201.33 714.5)" text-anchor="end">2016-05-06 14:59:57</text></g>
<text x="156" y="580" transform="rotate(-90 156 580)" text-anchor="middle" font-family="Liberation Sans" font-size="10.8" fill="#605e5c">Sum(vendorID)</text>
<text x="696" y="795" text-anchor="middle" font-family="Liberation Sans" font-size="11" fill="#605e5c">lpepPickupDatetime</text>
<circle cx="1227" cy="629" r="5" fill="#3176d0"/>
<text x="1239" y="633.5" font-family="Liberation Sans" font-size="11" font-weight="bold" fill="#323130">vendorID</text>
</svg>
<span class="t" style="left:150px;width:27px;text-align:right;top:695.7px;font-size:10px;color:#605e5c">0</span><span class="t" style="left:150px;width:27px;text-align:right;top:647.9px;font-size:10px;color:#605e5c">2</span><span class="t" style="left:150px;width:27px;text-align:right;top:600.1px;font-size:10px;color:#605e5c">4</span><span class="t" style="left:150px;width:27px;text-align:right;top:552.4px;font-size:10px;color:#605e5c">6</span><span class="t" style="left:150px;width:27px;text-align:right;top:504.6px;font-size:10px;color:#605e5c">8</span><span class="t" style="left:150px;width:27px;text-align:right;top:456.8px;font-size:10px;color:#605e5c">10</span>
<!-- settings panel -->
<div class="a" style="left:1303px;top:452px;width:1px;height:360px;background:#d8d8d8"></div>
<span class="t" style="left:1326px;top:469.8px;font-size:12px;letter-spacing:-0.25px;color:#323130">Chart type</span><div class="a" style="left:1326px;top:488px;width:239px;height:21px;border:1px solid #8a8886;border-radius:2px;background:#fff"></div><span class="t" style="left:1334px;top:493px;font-size:12px;letter-spacing:-0.25px;color:#323130">Column chart</span><svg style="left:1547px;top:496px" width="11" height="6" viewBox="0 0 11 6"><path d="M0.5 0.5 L5.5 5.5 L10.5 0.5" fill="none" stroke="#605e5c" stroke-width="1"/></svg><span class="t" style="left:1326px;top:517.2px;font-size:12px;letter-spacing:-0.25px;color:#323130">Key</span><div class="a" style="left:1326px;top:535px;width:239px;height:21px;border:1px solid #8a8886;border-radius:2px;background:#fff"></div><span class="t" style="left:1334px;top:540px;font-size:12px;letter-spacing:-0.25px;color:#323130">lpepPickupDatetime</span><svg style="left:1547px;top:543px" width="11" height="6" viewBox="0 0 11 6"><path d="M0.5 0.5 L5.5 5.5 L10.5 0.5" fill="none" stroke="#605e5c" stroke-width="1"/></svg><span class="t" style="left:1326px;top:562.7px;font-size:12px;letter-spacing:-0.25px;color:#323130">Values</span><div class="a" style="left:1326px;top:581px;width:239px;height:21px;border:1px solid #8a8886;border-radius:2px;background:#fff"></div><span class="t" style="left:1334px;top:586px;font-size:12px;letter-spacing:-0.25px;color:#323130">vendorID</span><svg style="left:1547px;top:589px" width="11" height="6" viewBox="0 0 11 6"><path d="M0.5 0.5 L5.5 5.5 L10.5 0.5" fill="none" stroke="#605e5c" stroke-width="1"/></svg><span class="t" style="left:1326px;top:609.6px;font-size:12px;letter-spacing:-0.25px;color:#323130">Series Group</span><div class="a" style="left:1326px;top:628px;width:239px;height:21px;border:1px solid #8a8886;border-radius:2px;background:#fff"></div><svg style="left:1547px;top:636px" width="11" height="6" viewBox="0 0 11 6"><path d="M0.5 0.5 L5.5 5.5 L10.5 0.5" fill="none" stroke="#605e5c" stroke-width="1"/></svg><span class="t" style="left:1326px;top:656.0px;font-size:12px;letter-spacing:-0.25px;color:#323130">Aggregation</span><div class="a" style="left:1326px;top:674px;width:239px;height:21px;border:1px solid #8a8886;border-radius:2px;background:#fff"></div><span class="t" style="left:1334px;top:679px;font-size:12px;letter-spacing:-0.25px;color:#323130">Sum</span><svg style="left:1547px;top:682px" width="11" height="6" viewBox="0 0 11 6"><path d="M0.5 0.5 L5.5 5.5 L10.5 0.5" fill="none" stroke="#605e5c" stroke-width="1"/></svg>
<div class="a" style="left:1326px;top:710px;width:16px;height:16px;border:1px solid #323130;border-radius:2px;background:#fff"></div>
<span class="t" style="left:1349px;top:713px;font-size:12px;letter-spacing:-0.2px;color:#323130">Stacked</span>
<div class="a" style="left:1326px;top:741px;width:16px;height:16px;border:1px solid #323130;border-radius:2px;background:#fff"></div>
<span class="t" style="left:1349px;top:744px;font-size:12px;letter-spacing:-0.2px;color:#323130">Aggregating over all results</span>
<svg style="left:1494px;top:743px" width="12" height="12" viewBox="0 0 12 12"><circle cx="6" cy="6" r="5" fill="none" stroke="#605e5c" stroke-width="0.9"/><path d="M6 5 V9" stroke="#605e5c" stroke-width="1"/><circle cx="6" cy="3.3" r="0.7" fill="#605e5c"/></svg>
<div class="a" style="left:1326px;top:771px;width:72px;height:22px;background:#f3f2f1;border-radius:2px"></div>
<span class="t" style="left:1346px;top:776px;font-size:12px;-webkit-text-stroke:0.3px #a19f9d;letter-spacing:0px;color:#a19f9d">Apply</span>
<div class="a" style="left:1405px;top:771px;width:73px;height:22px;background:#f3f2f1;border-radius:2px"></div>
<span class="t" style="left:1424px;top:776px;font-size:12px;-webkit-text-stroke:0.3px #a19f9d;letter-spacing:0px;color:#a19f9d">Cancel</span>


</body></html>
